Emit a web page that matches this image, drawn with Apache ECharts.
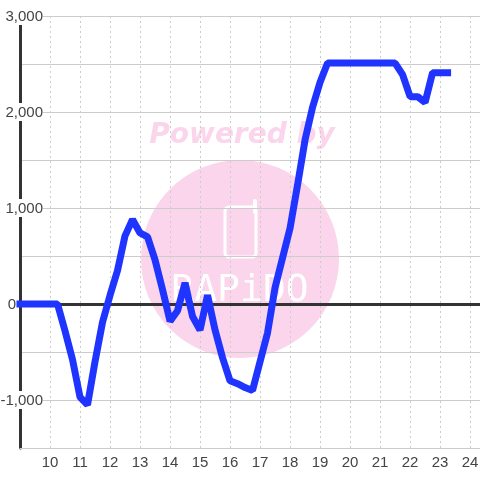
<!DOCTYPE html>
<html>
<head>
<meta charset="utf-8">
<style>
html, body { margin: 0; padding: 0; background: #fff; }
#chart { width: 480px; height: 480px; }
</style>
<script src="https://cdn.jsdelivr.net/npm/echarts@6/dist/echarts.min.js"></script>
</head>
<body>
<div id="chart"></div>
<script>
// readings every 15 minutes, starting at 9:00
var startHour = 9;
var stepHour = 0.25;
var values = [
	0, 0, 0, 0, 0, 0,
	-280, -580, -970, -1050, -600, -190,
	90, 350, 710, 880, 740, 700,
	460, 150, -180, -70, 220, -130,
	-270, 90, -270, -560, -800, -830,
	-870, -900, -600, -300, 170, 480,
	790, 1240, 1710, 2050, 2310, 2510,
	2510, 2510, 2510, 2510, 2510, 2510,
	2510, 2510, 2510,
	2390, 2160, 2160, 2100, 2410, 2410, 2410
];
var yLabels = { '3000': '3,000', '2000': '2,000', '1000': '1,000', '0': '0', '-1000': '-1,000' };

var lineData = [];
for (var i in values) {
	lineData.push([startHour + i * stepHour, values[i]]);
}

var pink = '#fbd5ec';
var chart = echarts.init(document.getElementById('chart'));
chart.setOption({
	animation: false,
	backgroundColor: '#fff',
	textStyle: { fontFamily: 'Liberation Sans' },
	grid: { left: 20, right: 0, top: 16, bottom: 32, outerBoundsMode: 'none' },
	graphic: [
		{ type: 'circle', z: -1, shape: { cx: 240, cy: 259, r: 99 }, style: { fill: pink } },
		{ type: 'text', z: -1, x: 242, y: 136, style: {
			text: 'Powered by', fill: pink, align: 'center', verticalAlign: 'middle',
			font: 'italic bold 28px "DejaVu Sans"'
		} },
		{ type: 'rect', z: -1, shape: { x: 225, y: 207, width: 31, height: 50, r: 4 },
			style: { fill: 'none', stroke: '#fff', lineWidth: 3 } },
		{ type: 'line', z: -1, shape: { x1: 255, y1: 201, x2: 255, y2: 212 },
			style: { stroke: '#fff', lineWidth: 4, lineCap: 'round' } },
		{ type: 'text', z: -1, x: 240, y: 291, style: {
			text: 'RAPiDO', fill: '#fff', align: 'center', verticalAlign: 'middle',
			font: '38px "DejaVu Sans Mono"'
		} }
	],
	xAxis: {
		type: 'value',
		min: 9,
		max: 24.33,
		interval: 1,
		axisLine: { onZero: false, lineStyle: { color: '#ccc', width: 1 } },
		axisTick: { show: false },
		splitLine: { show: true, lineStyle: { color: '#ccc', type: [2, 3], width: 1 } },
		axisLabel: {
			color: '#444', fontSize: 15, margin: 7, showMaxLabel: false,
			formatter: function(v) { return v === startHour ? '' : String(v); }
		}
	},
	yAxis: {
		type: 'value',
		min: -1500,
		max: 3000,
		interval: 500,
		axisLine: { show: true, lineStyle: { color: '#333', width: 3 } },
		axisTick: { show: false },
		splitLine: { show: true, lineStyle: { color: '#ccc', width: 1 } },
		axisLabel: {
			inside: true,
			margin: 23,
			align: 'right',
			color: '#444',
			fontSize: 15,
			formatter: function(v) {
				var s = yLabels[String(v)];
				if (!s) return '';
				return v === 0 ? '{z|' + s + '}' : '{b|' + s + '}';
			},
			rich: {
				b: { fontSize: 15, color: '#444', backgroundColor: '#fff', height: 16, lineHeight: 16, padding: [2, 0, 0, 0] },
				z: { fontSize: 15, color: '#444', padding: [2, 27, 0, 0] }
			}
		}
	},
	series: [
		{
			type: 'line',
			z: 1,
			symbol: 'none',
			data: [],
			markLine: {
				silent: true,
				symbol: 'none',
				label: { show: false },
				lineStyle: { color: '#333', width: 3, type: 'solid' },
				data: [ { yAxis: 0 } ]
			}
		},
		{
			type: 'line',
			z: 10,
			symbol: 'none',
			clip: false,
			lineStyle: { color: '#1f35ff', width: 7, join: 'bevel', cap: 'square' },
			data: lineData
		}
	]
});
</script>
</body>
</html>
